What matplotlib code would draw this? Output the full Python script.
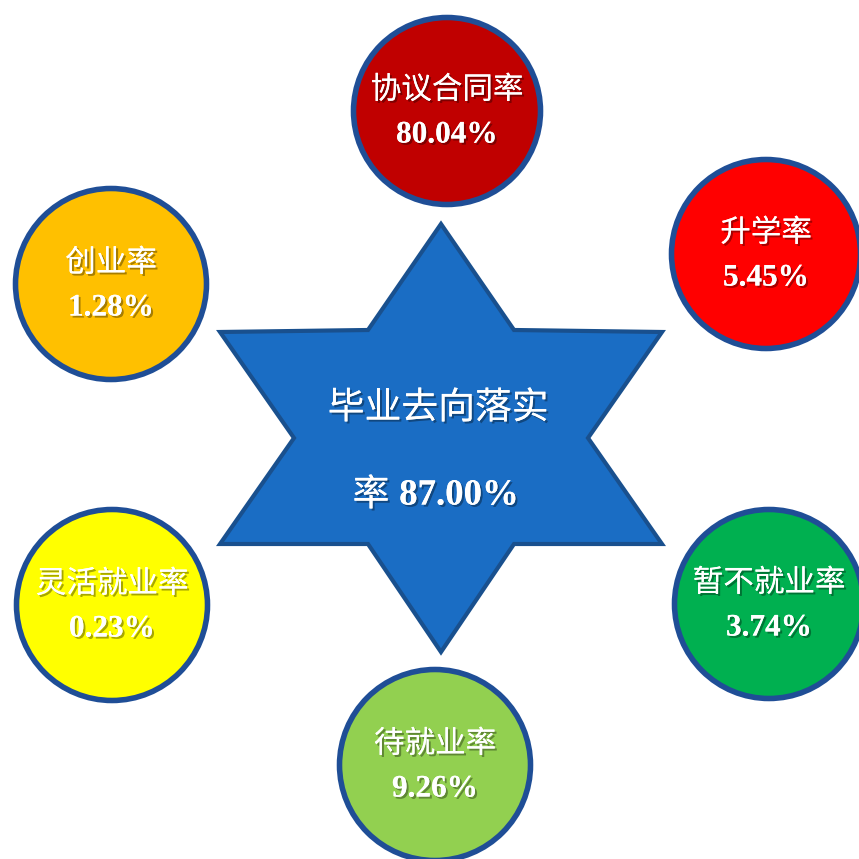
import matplotlib.pyplot as plt
import matplotlib.patheffects as pe
from matplotlib.patches import Circle, Polygon

# 数据
names = ["协议合同率", "升学率", "暂不就业率", "待就业率", "灵活就业率", "创业率"]
rates = [80.04, 5.45, 3.74, 9.26, 0.23, 1.28]
colors = ["#C00000", "#FF0000", "#00B050", "#92D050", "#FFFF00", "#FFC000"]
center_name = "毕业去向落实"
center_rate = 87.00

# 布局（像素坐标，y向下）
circle_xy = [(447, 111), (766, 254), (769, 604), (435, 765), (112, 605), (111, 284)]
circle_r = [96, 97, 97, 98, 98, 98]
edge_color = "#1F4E96"
star_c = (441, 438)

cjk = ["Noto Sans CJK SC", "DejaVu Sans"]
num_font = ["Liberation Serif", "DejaVu Serif"]
shadow = [pe.withSimplePatchShadow(offset=(1.5, -1.5), shadow_rgbFace="black", alpha=0.35), pe.Normal()]

fig = plt.figure(figsize=(8.59, 8.59), dpi=100)
ax = fig.add_axes([0, 0, 1, 1])
ax.set_xlim(0, 859)
ax.set_ylim(859, 0)
ax.set_aspect("equal")
ax.axis("off")

# 六角星
cx, cy = star_c
pts = [(0, -214), (73, -108), (221, -106), (147, 0), (221, 106), (73, 106),
       (0, 214), (-73, 106), (-221, 106), (-147, 0), (-221, -106), (-73, -108)]
star = Polygon([(cx + dx, cy + dy) for dx, dy in pts], closed=True,
               facecolor="#1A6DC4", edgecolor="#19508E", linewidth=3, joinstyle="miter")
ax.add_patch(star)

ax.text(cx - 3, 408, center_name, fontsize=26.5, family=cjk, weight="light", color="white",
        ha="center", va="center", path_effects=shadow)
ax.text(371, 495, "率", fontsize=26.5, family=cjk, weight="light", color="white",
        ha="center", va="center", path_effects=shadow)
ax.text(459, 495, f"{center_rate:.2f}%", fontsize=26.5, family=num_font, weight="bold",
        color="white", ha="center", va="center", path_effects=shadow)

# 周围的圆
for name, rate, col, (x, y), r in zip(names, rates, colors, circle_xy, circle_r):
    ax.add_patch(Circle((x, y), r - 2.5, facecolor=col, edgecolor=edge_color, linewidth=4))
    ax.text(x, y - 21, name, fontsize=22, family=cjk, weight="light", color="white",
            ha="center", va="center", path_effects=shadow)
    ax.text(x, y + 24, f"{rate:.2f}%", fontsize=22.5, family=num_font, weight="bold",
            color="white", ha="center", va="center", path_effects=shadow)

fig.savefig("out.png", dpi=100, facecolor="white")
